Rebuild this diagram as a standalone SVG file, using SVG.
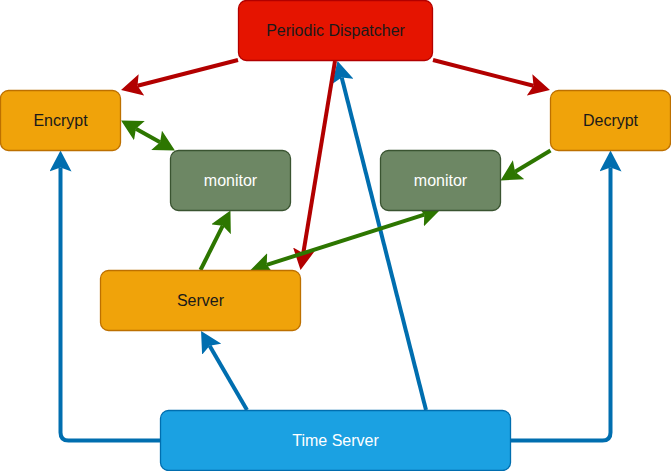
<svg xmlns="http://www.w3.org/2000/svg" width="671" height="471" viewBox="0 0 671 471">
<defs>
<style>
.box{stroke-width:1.3}
.red{fill:#e51400;stroke:#b20000}
.org{fill:#f0a30a;stroke:#bd7000}
.grn{fill:#6d8764;stroke:#3a5431}
.blu{fill:#1ba1e2;stroke:#006eaf}
text{font-family:"Liberation Sans",Arial,sans-serif;font-size:16px;text-anchor:middle}
.dk{fill:#1a1a1a}
.wt{fill:#ffffff}
.c{fill:none;stroke-width:4;stroke-linejoin:round}
.cb{stroke:#006eaf}
.cr{stroke:#b20000}
.cg{stroke:#2d7600}
</style>
<marker id="ab" viewBox="0 0 21 22" refX="4" refY="11" markerWidth="21" markerHeight="22" markerUnits="userSpaceOnUse" orient="auto-start-reverse"><path d="M0,0 L21,11 L0,22 L4,11 Z" fill="#006eaf"/></marker>
<marker id="ar" viewBox="0 0 21 22" refX="4" refY="11" markerWidth="21" markerHeight="22" markerUnits="userSpaceOnUse" orient="auto-start-reverse"><path d="M0,0 L21,11 L0,22 L4,11 Z" fill="#b20000"/></marker>
<marker id="ag" viewBox="0 0 21 22" refX="4" refY="11" markerWidth="21" markerHeight="22" markerUnits="userSpaceOnUse" orient="auto-start-reverse"><path d="M0,0 L21,11 L0,22 L4,11 Z" fill="#2d7600"/></marker>
</defs>
<rect width="671" height="471" fill="#ffffff"/>
<g id="connectors">
<path class="c cb" d="M160.5,440.5 H68.5 Q60.5,440.5 60.5,432.5 V167.5" marker-end="url(#ab)"/>
<path class="c cb" d="M510.5,440.5 H602.5 Q610.5,440.5 610.5,432.5 V167.5" marker-end="url(#ab)"/>
<path class="c cb" d="M247,410 L209.6,345.7" marker-end="url(#ab)"/>
<path class="c cb" d="M426,410 L341.7,77.5" marker-end="url(#ab)"/>
<path class="c cr" d="M238,60 L137.5,85.8" marker-end="url(#ar)"/>
<path class="c cr" d="M433,60 L533.5,85.8" marker-end="url(#ar)"/>
<path class="c cr" d="M335,61 L303.3,253.2" marker-end="url(#ar)"/>
<path class="c cg" d="M135.9,128.75 L160.1,142.25" marker-start="url(#ag)" marker-end="url(#ag)"/>
<path class="c cg" d="M200.5,270 L222.8,225.7" marker-end="url(#ag)"/>
<path class="c cg" d="M550.5,150.5 L515.1,171.75" marker-end="url(#ag)"/>
<path class="c cg" d="M266.7,264.84 L424.3,214.66" marker-start="url(#ag)" marker-end="url(#ag)"/>
</g>
<g id="dispatcher"><rect class="box red" x="238.5" y="0.5" width="194" height="60" rx="8"/><text class="dk" x="335.5" y="36">Periodic Dispatcher</text></g>
<g id="encrypt"><rect class="box org" x="0.5" y="90.5" width="120" height="60" rx="8"/><text class="dk" x="60.5" y="126">Encrypt</text></g>
<g id="decrypt"><rect class="box org" x="550.5" y="90.5" width="120" height="60" rx="8"/><text class="dk" x="610.5" y="126">Decrypt</text></g>
<g id="monitor-left"><rect class="box grn" x="170.5" y="150.5" width="120" height="60" rx="8"/><text class="wt" x="230.5" y="186">monitor</text></g>
<g id="monitor-right"><rect class="box grn" x="380.5" y="150.5" width="120" height="60" rx="8"/><text class="wt" x="440.5" y="186">monitor</text></g>
<g id="server"><rect class="box org" x="100.5" y="270.5" width="200" height="60" rx="8"/><text class="dk" x="200.5" y="306">Server</text></g>
<g id="time-server"><rect class="box blu" x="160.5" y="410.5" width="350" height="60" rx="8"/><text class="wt" x="335.5" y="446">Time Server</text></g>
</svg>
